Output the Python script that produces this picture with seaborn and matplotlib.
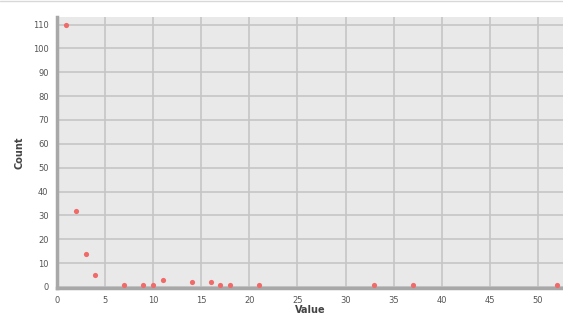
import matplotlib
matplotlib.use('Agg')
import matplotlib.pyplot as plt
import seaborn as sns
import pandas as pd

values = [1, 2, 3, 4, 7, 9, 10, 11, 14, 16, 17, 18, 21, 33, 37, 52]
counts = [110, 32, 14, 5, 1, 1, 1, 3, 2, 2, 1, 1, 1, 1, 1, 1]

df = pd.DataFrame({"Value": values, "Count": counts})

sns.set_style("whitegrid")
plt.rcParams['font.family'] = ['DejaVu Sans']

fig = plt.figure(figsize=(5.63, 3.23), dpi=100)
fig.patch.set_facecolor("white")
# light border line at the very top
fig.add_artist(plt.Line2D([0, 1], [0.997, 0.997], color="#d8d8d8", lw=1))
ax = fig.add_axes([0.101, 0.108, 0.899, 0.838])
ax.set_facecolor("#e9e9e9")

sns.scatterplot(data=df, x="Value", y="Count", ax=ax, color="#f06a6a",
                marker="o", s=14, linewidth=0, zorder=3)

ax.set_xlim(0, 52.6)
ax.set_ylim(-0.5, 113)
ax.set_xticks(range(0, 55, 5))
ax.set_yticks(range(0, 111, 10))
ax.grid(True, color="#c6c6c6", linewidth=1.2)
for side in ["top", "right"]:
    ax.spines[side].set_visible(False)
for side in ["left", "bottom"]:
    ax.spines[side].set_color("#a8a8a8")
    ax.spines[side].set_linewidth(2.5)
ax.tick_params(axis="both", labelsize=6, colors="#555555", length=0, pad=6)
ax.set_xlabel("Value", fontsize=7, fontweight="bold", color="#444444", labelpad=0)
ax.set_ylabel("Count", fontsize=7, fontweight="bold", color="#444444", labelpad=6)

plt.savefig("out.png", dpi=100)
